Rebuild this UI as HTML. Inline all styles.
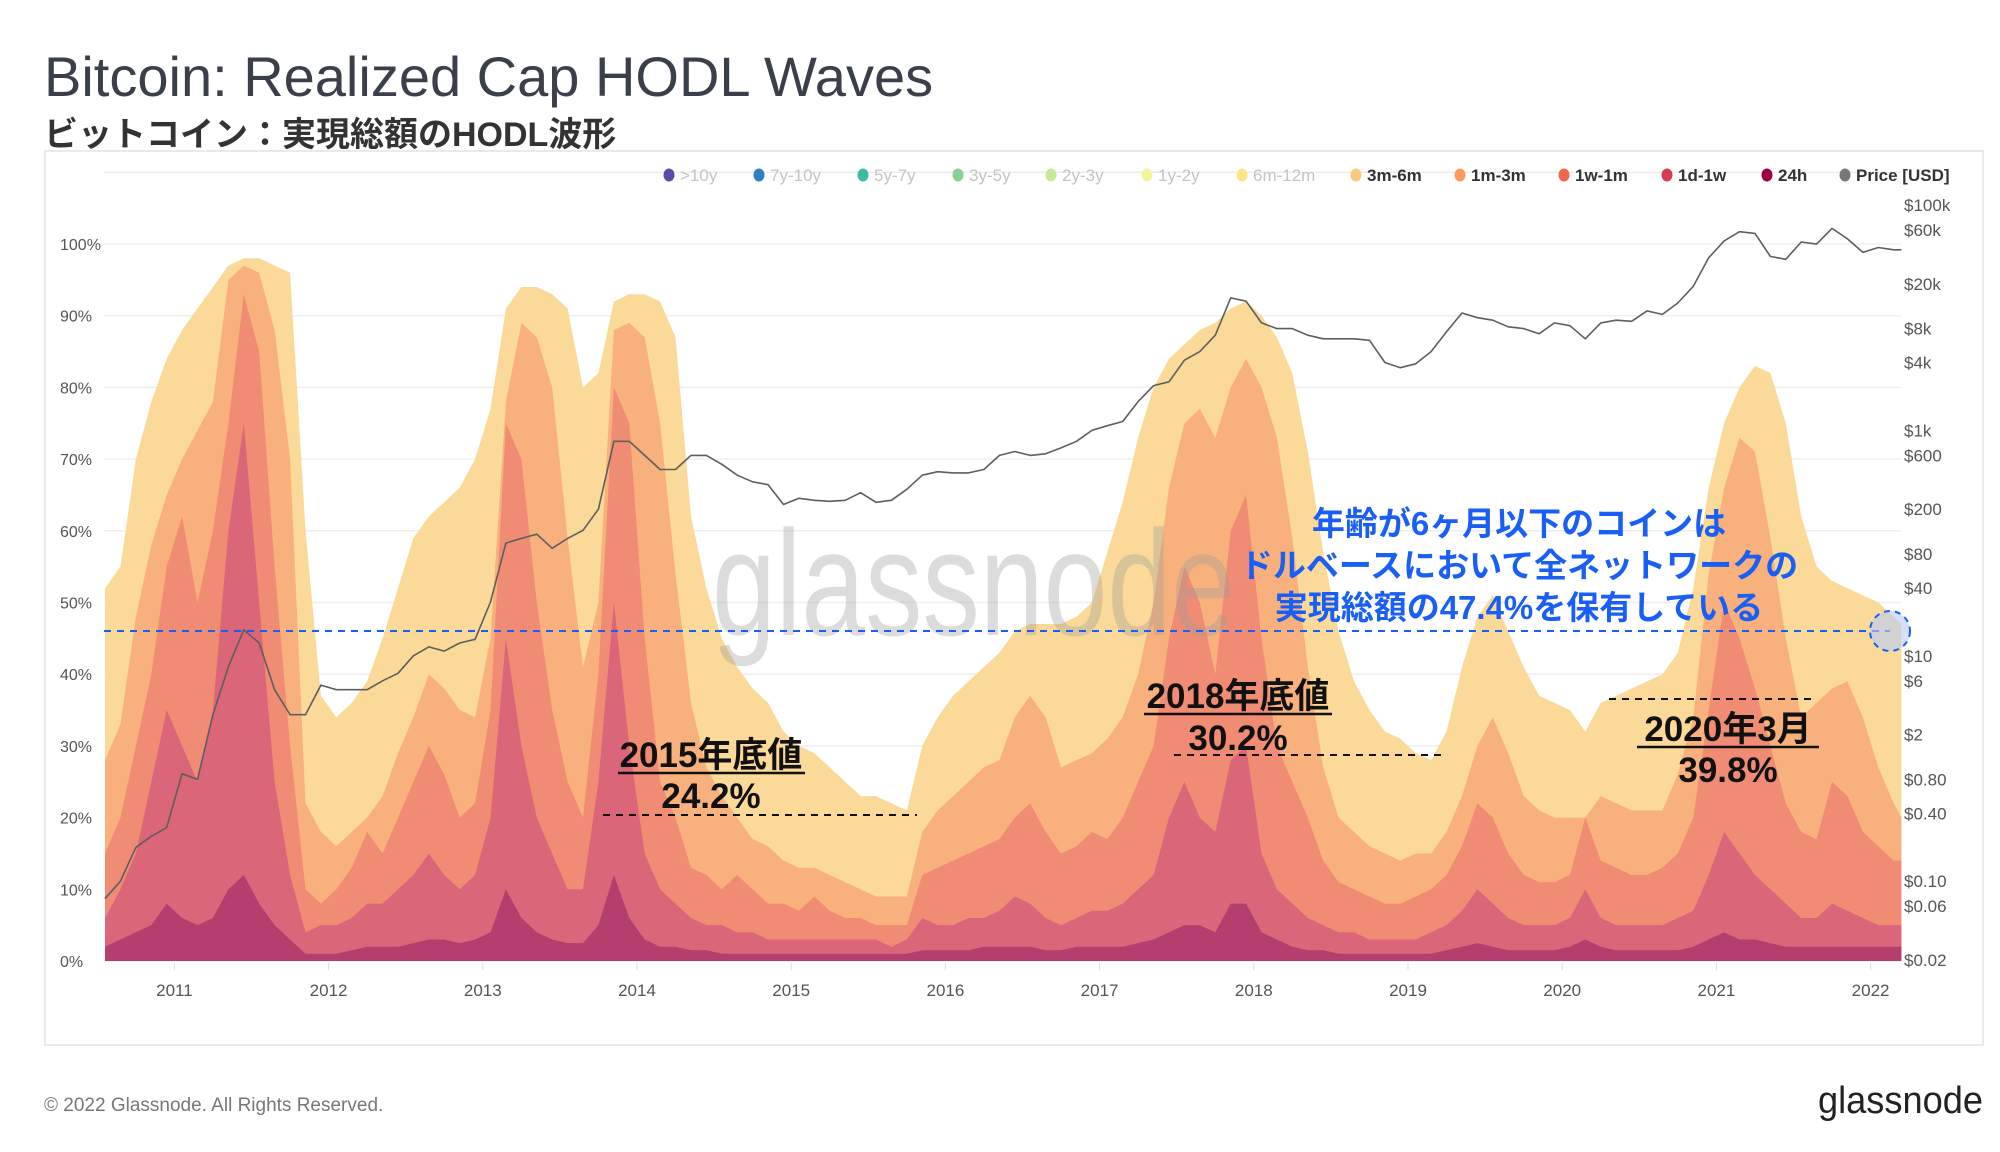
<!DOCTYPE html>
<html><head><meta charset="utf-8"><title>Bitcoin: Realized Cap HODL Waves</title>
<style>
html,body{margin:0;padding:0;background:#fff;}
svg{display:block;}
</style></head>
<body>
<svg id="chart" width="2000" height="1152" viewBox="0 0 2000 1152" xmlns="http://www.w3.org/2000/svg" font-family="'Liberation Sans','Noto Sans CJK JP',sans-serif">
  <rect x="0" y="0" width="2000" height="1152" fill="#fff"/>
  <text x="44" y="96" font-size="56" fill="#3b3f4a">Bitcoin: Realized Cap HODL Waves</text>
  <text x="44" y="146" font-size="34" font-weight="bold" fill="#333">ビットコイン：実現総額のHODL波形</text>
  <rect x="45" y="151" width="1938" height="894" fill="none" stroke="#e4e4e4" stroke-width="1.5"/>
  <g id="grid"></g>
  <g id="areas"></g>
  <text x="712" y="635" font-size="150" textLength="523" lengthAdjust="spacingAndGlyphs" fill="#9a9a9a" fill-opacity="0.35">glassnode</text>
  <g id="price"></g>
  <g id="axes"></g>
  <g id="legend"></g>
  <g id="annotations">
    <line x1="104" y1="631" x2="1890" y2="631" stroke="#1a5ff5" stroke-width="2" stroke-dasharray="7,6"/>
    <circle cx="1890" cy="631" r="20" fill="#b9cdfa" fill-opacity="0.6" stroke="#1a5ff5" stroke-width="2" stroke-dasharray="6,5"/>
    <g font-size="33" font-weight="bold" fill="#1a5ff5" text-anchor="middle">
      <text x="1519" y="535">年齢が6ヶ月以下のコインは</text>
      <text x="1519" y="577">ドルベースにおいて全ネットワークの</text>
      <text x="1519" y="619">実現総額の47.4%を保有している</text>
    </g>
    <g font-size="35" font-weight="bold" fill="#111" text-anchor="middle">
      <text x="711" y="767">2015年底値</text>
      <line x1="618" y1="773" x2="805" y2="773" stroke="#111" stroke-width="2.5"/>
      <text x="711" y="808">24.2%</text>
      <line x1="603" y1="815" x2="917" y2="815" stroke="#111" stroke-width="2" stroke-dasharray="7,6"/>
    </g>
    <g font-size="35" font-weight="bold" fill="#111" text-anchor="middle">
      <text x="1238" y="708">2018年底値</text>
      <line x1="1144" y1="714" x2="1332" y2="714" stroke="#111" stroke-width="2.5"/>
      <text x="1238" y="750">30.2%</text>
      <line x1="1174" y1="755" x2="1445" y2="755" stroke="#111" stroke-width="2" stroke-dasharray="7,6"/>
    </g>
    <g font-size="35" font-weight="bold" fill="#111" text-anchor="middle">
      <text x="1728" y="741">2020年3月</text>
      <line x1="1637" y1="747" x2="1819" y2="747" stroke="#111" stroke-width="2.5"/>
      <text x="1728" y="782">39.8%</text>
      <line x1="1609" y1="699" x2="1814" y2="699" stroke="#111" stroke-width="2" stroke-dasharray="7,6"/>
    </g>
  </g>
  <text x="44" y="1111" font-size="19" fill="#777">© 2022 Glassnode. All Rights Reserved.</text>
  <text x="1818" y="1113" font-size="38" textLength="165" lengthAdjust="spacingAndGlyphs" fill="#222">glassnode</text>
</svg>
<script>
// ---- data ----
const dates = [2010.55,2010.65,2010.75,2010.85,2010.95,2011.05,2011.15,2011.25,2011.35,2011.45,2011.55,2011.65,2011.75,2011.85,2011.95,
2012.05,2012.15,2012.25,2012.35,2012.45,2012.55,2012.65,2012.75,2012.85,2012.95,
2013.05,2013.15,2013.25,2013.35,2013.45,2013.55,2013.65,2013.75,2013.85,2013.95,
2014.05,2014.15,2014.25,2014.35,2014.45,2014.55,2014.65,2014.75,2014.85,2014.95,
2015.05,2015.15,2015.25,2015.35,2015.45,2015.55,2015.65,2015.75,2015.85,2015.95,
2016.05,2016.15,2016.25,2016.35,2016.45,2016.55,2016.65,2016.75,2016.85,2016.95,
2017.05,2017.15,2017.25,2017.35,2017.45,2017.55,2017.65,2017.75,2017.85,2017.95,
2018.05,2018.15,2018.25,2018.35,2018.45,2018.55,2018.65,2018.75,2018.85,2018.95,
2019.05,2019.15,2019.25,2019.35,2019.45,2019.55,2019.65,2019.75,2019.85,2019.95,
2020.05,2020.15,2020.25,2020.35,2020.45,2020.55,2020.65,2020.75,2020.85,2020.95,
2021.05,2021.15,2021.25,2021.35,2021.45,2021.55,2021.65,2021.75,2021.85,2021.95,
2022.05,2022.15,2022.2];
// cumulative top (%) of each visible band
const top3m6m = [52,55,70,78,84,88,91,94,97,98,98,97,96,60,37,
34,36,39,45,52,59,62,64,66,70,
77,91,94,94,93,91,80,82,92,93,
93,92,87,62,52,45,41,38,36,32,
30,29,27,25,23,23,22,21,30,34,
37,39,41,43,46,47,47,47,48,50,
57,64,73,80,84,86,88,89,91,92,
90,87,82,71,57,46,39,35,32,31,
29,28,32,41,48,51,46,41,37,36,
35,32,36,37,38,39,40,43,52,66,
75,80,83,82,75,62,55,53,52,51,
50,48,47];
const top1m3m = [28,33,48,58,65,70,74,78,95,97,96,88,70,22,18,
16,18,20,23,29,34,40,38,35,34,
45,78,89,87,80,59,41,50,88,89,
87,75,54,36,27,23,20,17,16,14,
13,13,12,11,10,9,9,9,18,21,
23,25,27,28,34,37,34,27,28,29,
31,34,40,50,66,75,77,73,80,84,
80,73,59,41,27,20,18,16,15,14,
15,15,18,23,30,34,29,23,21,20,
20,20,23,22,21,21,21,26,34,54,
66,73,71,59,45,34,36,38,39,34,
27,22,20];
const top1w1m = [15,20,30,40,55,62,50,60,75,93,85,55,30,10,8,
10,13,18,15,20,25,30,26,20,22,
35,75,70,50,35,25,20,40,80,75,
45,25,20,13,12,10,12,10,8,8,
7,9,7,6,6,5,5,5,12,13,
14,15,16,17,20,22,18,15,16,18,
17,20,25,30,45,55,50,40,60,65,
45,30,25,20,14,11,10,9,8,8,
9,10,12,16,22,20,15,12,11,11,
12,20,14,13,12,12,13,15,20,35,
50,45,38,30,22,18,17,25,23,18,
16,14,14];
const top1d1w = [6,10,15,25,35,30,25,35,60,75,50,25,12,4,5,
5,6,8,8,10,12,15,12,10,12,
20,45,30,20,15,10,10,25,50,30,
15,10,8,6,5,5,4,4,3,3,
3,3,3,3,3,3,2,3,6,5,
5,6,6,7,9,8,6,5,6,7,
7,8,10,12,20,25,20,18,28,30,
15,10,8,6,5,4,4,3,3,3,
3,4,5,7,10,8,6,5,5,5,
6,10,6,5,5,5,5,6,7,12,
18,15,12,10,8,6,6,8,7,6,
5,5,5];
const top24h = [2,3,4,5,8,6,5,6,10,12,8,5,3,1,1,
1,1.5,2,2,2,2.5,3,3,2.5,3,
4,10,6,4,3,2.5,2.5,5,12,6,
3,2,2,1.5,1.5,1,1,1,1,1,
1,1,1,1,1,1,1,1,1.5,1.5,
1.5,1.5,2,2,2,2,1.5,1.5,2,2,
2,2,2.5,3,4,5,5,4,8,8,
4,3,2,1.5,1.5,1,1,1,1,1,
1,1,1.5,2,2.5,2,1.5,1.5,1.5,1.5,
2,3,2,1.5,1.5,1.5,1.5,1.5,2,3,
4,3,3,2.5,2,2,2,2,2,2,
2,2,2];
const priceUsd = [0.07,0.1,0.2,0.25,0.3,0.9,0.8,3,8,17,13,5,3,3,5.5,
5,5,5,6,7,10,12,11,13,14,
30,100,110,120,90,110,130,200,800,800,
600,450,450,600,600,500,400,350,330,220,
250,240,235,240,280,230,240,300,400,430,
420,420,450,600,650,600,620,700,800,1000,
1100,1200,1800,2500,2700,4200,5000,7000,15000,14000,
9000,8000,8000,7000,6500,6500,6500,6300,4000,3600,
3900,5000,7500,11000,10000,9500,8300,8000,7200,9000,
8500,6500,9000,9500,9300,11500,10700,13500,19000,34000,
48000,58000,56000,35000,33000,47000,45000,62000,50000,38000,
42000,40000,40000];
const pctTicks = [0,10,20,30,40,50,60,70,80,90,100];
const yearTicks = [2011,2012,2013,2014,2015,2016,2017,2018,2019,2020,2021,2022];
const priceTicks = [100000,60000,20000,8000,4000,1000,600,200,80,40,10,6,2,0.8,0.4,0.1,0.06,0.02];
const priceTickLabels = ['$100k','$60k','$20k','$8k','$4k','$1k','$600','$200','$80','$40','$10','$6','$2','$0.80','$0.40','$0.10','$0.06','$0.02'];
const legendNames = ['>10y','7y-10y','5y-7y','3y-5y','2y-3y','1y-2y','6m-12m','3m-6m','1m-3m','1w-1m','1d-1w','24h','Price [USD]'];
const legendColors = ['#5b4ba5','#2f80c0','#3dbba6','#85d394','#c8e99a','#f2f59c','#fde68a','#fdc97a','#f99c5c','#f0684a','#d43d51','#9e0142','#777777'];
const legendActive = [false,false,false,false,false,false,false,true,true,true,true,true,true];

// ---- scales ----
const NS='http://www.w3.org/2000/svg';
const X0=104, X1=1901, Y0=961, Y100=244;
function xScale(t){ return 174.4 + (t-2011)*154.2; }
function yPct(p){ return Y0 - p*(Y0-Y100)/100; }
function yPrice(v){ return 205 + (5 - Math.log10(v))*112.7; }
function mk(tag, attrs, parent){ const e=document.createElementNS(NS,tag); for(const k in attrs) e.setAttribute(k,attrs[k]); parent.appendChild(e); return e; }

// grid
const grid=document.getElementById('grid');
mk('line',{x1:X0,x2:X1,y1:yPct(110),y2:yPct(110),stroke:'#ececec','stroke-width':1.5},grid);
pctTicks.forEach(p=>{
  const l=mk('line',{x1:X0,x2:X1,y1:yPct(p),y2:yPct(p),stroke:'#efefef','stroke-width':1.5},grid);
  
  
});

// stacked areas
const areas=document.getElementById('areas');
const bands=[
  {name:'band-3m-6m', vals:top3m6m, color:'#fbd998'},
  {name:'band-1m-3m', vals:top1m3m, color:'#f8b17c'},
  {name:'band-1w-1m', vals:top1w1m, color:'#f08c74'},
  {name:'band-1d-1w', vals:top1d1w, color:'#dc6679'},
  {name:'band-24h', vals:top24h, color:'#b43e6e'}
];
let prev=null;
bands.forEach(b=>{
  const v=b.vals.map((x,i)=> prev? Math.min(x,prev[i]) : x);
  prev=v;
  let d='M'+xScale(dates[0]).toFixed(1)+','+Y0;
  dates.forEach((t,i)=>{ d+=' L'+xScale(t).toFixed(1)+','+yPct(v[i]).toFixed(1); });
  d+=' L'+xScale(dates[dates.length-1]).toFixed(1)+','+Y0+' Z';
  const p=mk('path',{d:d,fill:b.color},areas);
  
  
});

// price line
const pg=document.getElementById('price');
let pd='';
dates.forEach((t,i)=>{ pd+=(i?' L':'M')+xScale(t).toFixed(1)+','+yPrice(priceUsd[i]).toFixed(1); });
const pl=mk('path',{d:pd,fill:'none',stroke:'#5e5e5e','stroke-width':1.6,'stroke-linejoin':'round'},pg);



// axes
const ax=document.getElementById('axes');
pctTicks.forEach(p=>{
  const t=mk('text',{x:60,y:yPct(p)+6,'font-size':16,fill:'#555'},ax);
  t.textContent=p+'%';
  
  
});
yearTicks.forEach(yr=>{
  const x=xScale(yr);
  mk('line',{x1:x,x2:x,y1:963,y2:970,stroke:'#ddd','stroke-width':1},ax);
  const t=mk('text',{x:x,y:996,'font-size':17,fill:'#555','text-anchor':'middle'},ax);
  t.textContent=String(yr);
  
  
});
priceTicks.forEach((v,i)=>{
  const t=mk('text',{x:1904,y:yPrice(v)+6,'font-size':17,fill:'#555'},ax);
  t.textContent=priceTickLabels[i];
  
  
});

// legend
const lg=document.getElementById('legend');
const legX=[669,759,863,958,1051,1147,1242,1356,1460,1564,1667,1767,1845];
legendNames.forEach((n,i)=>{
  const g=mk('g',{},lg);
  
  
  mk('ellipse',{cx:legX[i],cy:175,rx:5.5,ry:6.5,fill:legendColors[i]},g);
  const t=mk('text',{x:legX[i]+11,y:181,'font-size':17,fill:legendActive[i]?'#333':'#c4c4c4','font-weight':legendActive[i]?'bold':'normal'},g);
  t.textContent=n;
});
</script>
</body></html>
